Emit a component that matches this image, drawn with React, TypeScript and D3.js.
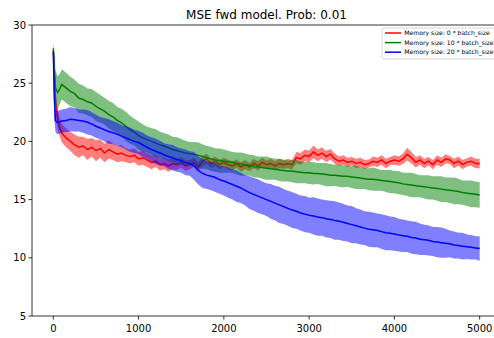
import React from "react";
import * as d3 from "d3";

const earlySteps = [0, 10, 25, 50, 75, 100];
const steps: number[] = earlySteps.concat(d3.range(150, 5001, 50));

const redMean = [
  27.8, 26.0, 23.5, 22.0, 21.2, 20.7,
  20.3, 20.0, 19.7, 19.5, 19.6, 19.3, 19.5, 19.2, 19.4, 19.0, 19.3, 19.1, 18.9, 19.0, 18.8, 18.7, 18.8, 18.5,
  18.6, 18.4, 18.2, 18.3, 18.0, 18.1, 17.9, 18.1, 18.0, 18.2, 17.9, 18.0, 18.2, 17.8, 18.3, 18.5, 18.1, 18.3, 18.0, 18.2,
  18.0, 17.9, 18.1, 17.8, 18.0, 17.8, 18.1, 17.9, 18.2, 18.0, 18.1, 17.9, 18.1, 18.0, 18.1, 18.0, 18.6, 18.5, 18.8, 18.7,
  19.1, 18.8, 19.0, 18.7, 18.9, 18.5, 18.3, 18.4, 18.2, 18.3, 18.1, 18.2, 18.0, 18.1, 18.3, 18.2, 18.4, 18.1, 18.3, 18.4,
  18.3, 18.5, 18.9, 18.6, 18.2, 18.4, 18.1, 18.3, 18.0, 18.4, 18.2, 18.5, 18.4, 18.1, 18.3, 18.0, 18.2, 18.3, 18.1, 18.1,
];
const redStd = [
  0.4, 1.2, 1.0, 0.9, 0.8, 0.8,
  0.8, 0.8, 0.9, 0.9, 0.8, 0.9, 0.8, 0.9, 0.8, 0.8, 0.8, 0.7, 0.7, 0.7, 0.6, 0.6, 0.6, 0.6,
  0.6, 0.6, 0.6, 0.5, 0.5, 0.5, 0.5, 0.5, 0.45, 0.45, 0.45, 0.4, 0.4, 0.4, 0.45, 0.45, 0.4, 0.4, 0.4, 0.4,
  0.4, 0.4, 0.35, 0.4, 0.4, 0.35, 0.4, 0.4, 0.4, 0.35, 0.4, 0.4, 0.4, 0.35, 0.4, 0.4, 0.5, 0.5, 0.5, 0.5,
  0.55, 0.5, 0.5, 0.5, 0.45, 0.45, 0.4, 0.4, 0.4, 0.35, 0.4, 0.4, 0.4, 0.35, 0.4, 0.4, 0.4, 0.4, 0.35, 0.4,
  0.4, 0.45, 0.55, 0.5, 0.45, 0.4, 0.4, 0.35, 0.4, 0.4, 0.4, 0.4, 0.35, 0.4, 0.4, 0.4, 0.35, 0.4, 0.4, 0.4,
];

const greenMean = [
  28.0, 26.5, 24.6, 24.2, 24.5, 24.9,
  24.6, 24.3, 24.1, 23.7, 23.6, 23.4, 23.3, 23.0, 22.8, 22.6, 22.3, 22.1, 21.8, 21.6, 21.3, 21.0, 20.8, 20.5,
  20.3, 20.15, 20.0, 19.85, 19.7, 19.6, 19.45, 19.3, 19.2, 19.1, 19.0, 18.95, 18.9, 18.8, 18.7, 18.6, 18.5, 18.4, 18.35, 18.3,
  18.25, 18.2, 18.1, 18.05, 18.0, 17.95, 17.85, 17.8, 17.75, 17.7, 17.65, 17.6, 17.55, 17.5, 17.45, 17.45, 17.4, 17.35, 17.3, 17.3,
  17.25, 17.25, 17.2, 17.15, 17.1, 17.1, 17.05, 17.0, 17.0, 16.95, 16.9, 16.85, 16.8, 16.75, 16.75, 16.7, 16.65, 16.6, 16.55, 16.5,
  16.45, 16.35, 16.3, 16.25, 16.2, 16.15, 16.1, 16.05, 16.0, 15.95, 15.9, 15.85, 15.8, 15.75, 15.7, 15.6, 15.55, 15.5, 15.45, 15.4,
];
const greenStd = [
  0.4, 1.4, 1.5, 1.4, 1.3, 1.3,
  1.3, 1.25, 1.2, 1.25, 1.2, 1.15, 1.2, 1.25, 1.2, 1.15, 1.2, 1.2, 1.15, 1.2, 1.25, 1.2, 1.15, 1.2,
  1.15, 1.1, 1.15, 1.2, 1.15, 1.1, 1.15, 1.1, 1.15, 1.1, 1.05, 1.0, 1.05, 1.1, 1.05, 1.0, 1.05, 1.0, 1.05, 1.0,
  0.95, 0.9, 0.95, 1.0, 0.95, 0.9, 0.95, 0.9, 0.95, 1.0, 0.95, 0.9, 0.95, 0.95, 0.9, 0.95, 1.0, 0.95, 0.9, 0.95,
  0.95, 0.9, 0.95, 1.0, 0.95, 0.9, 0.95, 0.95, 0.9, 0.95, 1.0, 0.95, 0.9, 0.95, 1.0, 0.95, 0.9, 0.95, 1.0, 0.95,
  1.0, 0.95, 1.0, 1.05, 1.0, 0.95, 1.0, 1.05, 1.0, 1.05, 1.1, 1.05, 1.1, 1.15, 1.1, 1.05, 1.1, 1.15, 1.1, 1.1,
];

const blueMean = [
  27.7, 24.0, 21.8, 21.6, 21.7, 21.75,
  21.8, 21.9, 21.85, 21.8, 21.75, 21.65, 21.5, 21.3, 21.15, 21.0, 20.85, 20.75, 20.6, 20.45, 20.3, 20.15, 20.0, 19.9,
  19.7, 19.5, 19.3, 19.15, 19.0, 18.85, 18.7, 18.6, 18.45, 18.35, 18.2, 18.1, 17.9, 17.5, 17.25, 17.1, 17.0, 16.9, 16.7, 16.6,
  16.45, 16.3, 16.15, 16.0, 15.8, 15.6, 15.45, 15.3, 15.15, 15.0, 14.85, 14.7, 14.55, 14.4, 14.25, 14.1, 14.0, 13.85, 13.75, 13.65,
  13.6, 13.5, 13.45, 13.35, 13.3, 13.2, 13.15, 13.05, 12.95, 12.85, 12.75, 12.65, 12.55, 12.45, 12.4, 12.35, 12.25, 12.15, 12.1, 12.05,
  11.95, 11.9, 11.85, 11.75, 11.7, 11.6, 11.55, 11.5, 11.4, 11.35, 11.3, 11.25, 11.2, 11.1, 11.05, 11.0, 10.95, 10.9, 10.85, 10.8,
];
const blueStd = [
  0.3, 2.0, 1.0, 1.0, 1.0, 1.0,
  1.0, 1.05, 1.0, 0.95, 1.0, 1.05, 1.0, 1.0, 0.95, 1.0, 1.05, 1.0, 1.0, 0.95, 1.0, 1.05, 1.0, 1.0,
  1.05, 1.0, 1.05, 1.1, 1.05, 1.0, 1.05, 1.1, 1.05, 1.05, 1.1, 1.05, 1.2, 1.2, 1.25, 1.2, 1.2, 1.25, 1.2, 1.25,
  1.3, 1.3, 1.35, 1.3, 1.3, 1.4, 1.4, 1.45, 1.4, 1.4, 1.5, 1.5, 1.55, 1.5, 1.5, 1.55, 1.5, 1.5, 1.55, 1.5,
  1.6, 1.6, 1.55, 1.6, 1.6, 1.65, 1.6, 1.6, 1.55, 1.6, 1.5, 1.5, 1.45, 1.5, 1.5, 1.45, 1.5, 1.5, 1.45, 1.45,
  1.4, 1.4, 1.35, 1.4, 1.4, 1.35, 1.3, 1.3, 1.25, 1.3, 1.3, 1.25, 1.15, 1.15, 1.1, 1.15, 1.05, 1.05, 1.0, 1.05,
];

const seriesNames = [
  "Memory size: 0 * batch_size",
  "Memory size: 10 * batch_size",
  "Memory size: 20 * batch_size",
];
const seriesColors = ["#ff0000", "#008000", "#0000ff"];
const seriesMeans = [redMean, greenMean, blueMean];
const seriesStds = [redStd, greenStd, blueStd];

const xTicks = [0, 1000, 2000, 3000, 4000, 5000];
const yTicks = [5, 10, 15, 20, 25, 30];
const title = "MSE fwd model. Prob: 0.01";

type Pt = { s: number; m: number; sd: number };

export default function App() {
  const W = 494;
  const H = 338;
  const left = 32;
  const right = 501;
  const top = 25;
  const bottom = 316;

  const x = d3.scaleLinear().domain([-250, 5250]).range([left, right]);
  const y = d3.scaleLinear().domain([5, 30]).range([bottom, top]);

  const area = d3
    .area<Pt>()
    .x((d) => x(d.s))
    .y0((d) => y(d.m - d.sd))
    .y1((d) => y(d.m + d.sd));
  const line = d3
    .line<Pt>()
    .x((d) => x(d.s))
    .y((d) => y(d.m));

  const series = seriesMeans.map((means, k) =>
    steps.map((s, i) => ({ s, m: means[i], sd: seriesStds[k][i] }))
  );

  const font = "'DejaVu Sans', sans-serif";

  return (
    <svg
      width={W}
      height={H}
      style={{ position: "absolute", left: 0, top: 0, background: "#fff" }}
      fontFamily={font}
    >
      <rect x={0} y={0} width={W} height={H} fill="#fff" />
      <text x={(left + right) / 2} y={19} textAnchor="middle" fontSize={12} fill="#000">
        {title}
      </text>
      <defs>
        <clipPath id="plotclip">
          <rect x={left} y={top} width={right - left} height={bottom - top} />
        </clipPath>
      </defs>
      <g clipPath="url(#plotclip)">
        {series.map((pts, k) => (
          <g key={k}>
            <path d={area(pts) || ""} fill={seriesColors[k]} fillOpacity={0.5} stroke="none" />
            <path d={line(pts) || ""} fill="none" stroke={seriesColors[k]} strokeWidth={1.5} />
          </g>
        ))}
      </g>
      {/* spines */}
      <line x1={left} y1={top} x2={left} y2={bottom} stroke="#000" strokeWidth={0.8} />
      <line x1={left} y1={bottom} x2={right} y2={bottom} stroke="#000" strokeWidth={0.8} />
      <line x1={left} y1={top} x2={right} y2={top} stroke="#000" strokeWidth={0.8} />
      <line x1={right} y1={top} x2={right} y2={bottom} stroke="#000" strokeWidth={0.8} />
      {/* y ticks */}
      {yTicks.map((t) => (
        <g key={"y" + t}>
          <line x1={left - 3.5} x2={left} y1={y(t)} y2={y(t)} stroke="#000" strokeWidth={0.8} />
          <text x={left - 6} y={y(t)} dy="0.35em" textAnchor="end" fontSize={10} fill="#000">
            {t}
          </text>
        </g>
      ))}
      {/* x ticks */}
      {xTicks.map((t) => (
        <g key={"x" + t}>
          <line x1={x(t)} x2={x(t)} y1={bottom} y2={bottom + 3.5} stroke="#000" strokeWidth={0.8} />
          <text x={x(t)} y={bottom + 15.5} textAnchor="middle" fontSize={10} fill="#000">
            {t}
          </text>
        </g>
      ))}
      {/* legend */}
      <g>
        <rect
          x={382}
          y={28}
          width={116}
          height={31}
          rx={2}
          fill="#fff"
          fillOpacity={0.8}
          stroke="#cccccc"
          strokeWidth={0.8}
        />
        {seriesNames.map((name, k) => {
          const ly = 33 + k * 9.6;
          return (
            <g key={name}>
              <line x1={385} x2={401} y1={ly} y2={ly} stroke={seriesColors[k]} strokeWidth={1.5} />
              <text x={404.3} y={ly} dy="0.35em" fontSize={6.1} fill="#000">
                {name}
              </text>
            </g>
          );
        })}
      </g>
    </svg>
  );
}
